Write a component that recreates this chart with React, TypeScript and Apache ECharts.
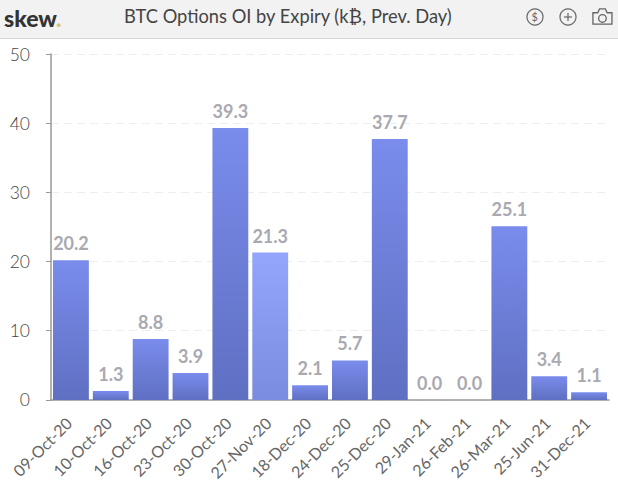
import React, { useEffect, useRef } from "react";
import * as echarts from "echarts";

const categories = ["09-Oct-20","10-Oct-20","16-Oct-20","23-Oct-20","30-Oct-20","27-Nov-20","18-Dec-20","24-Dec-20","25-Dec-20","29-Jan-21","26-Feb-21","26-Mar-21","25-Jun-21","31-Dec-21"];
const values = [20.2,1.3,8.8,3.9,39.3,21.3,2.1,5.7,37.7,0.0,0.0,25.1,3.4,1.1];
const highlighted = "27-Nov-20";
const yTicks = { min: 0, max: 50, interval: 10 };
const titleText = "BTC Options OI by Expiry (k\u20BF, Prev. Day)";

const FONT = "Lato, Carlito, 'Open Sans', sans-serif";
const grad = (a: string, b: string) => new echarts.graphic.LinearGradient(0, 0, 0, 1, [
  { offset: 0, color: a }, { offset: 1, color: b },
]);

echarts.graphic.registerShape("camera", echarts.graphic.extendPath(
  "M1 5 H6 L8 1 H14 L16 5 H21 V17 H1 Z M11 7 A4 4 0 1 0 11 15 A4 4 0 1 0 11 7 Z", {}));

export default function App() {
  const ref = useRef<HTMLDivElement>(null);
  useEffect(() => {
    const chart = echarts.init(ref.current!, undefined, { renderer: "svg" });
    const icon = "#666";
    chart.setOption({
      animation: false,
      backgroundColor: "#fff",
      grid: { left: 51, right: 9, top: 54, bottom: 83, containLabel: false },
      xAxis: {
        type: "category",
        data: categories,
        axisLine: { lineStyle: { color: "#999", width: 1.5 } },
        axisTick: { show: false },
        axisLabel: { rotate: 45, interval: 0, color: "#666", fontFamily: FONT, fontSize: 16, margin: 18, padding: [0, 3, 0, 0] },
      },
      yAxis: {
        type: "value",
        ...yTicks,
        axisLine: { show: true, lineStyle: { color: "#999", width: 1.5 } },
        axisTick: { show: true, length: 5, lineStyle: { color: "#999" } },
        axisLabel: { color: "#444", fontFamily: FONT, fontSize: 17.5, fontWeight: 300, margin: 21, padding: [0, 0, 7, 0] },
        splitLine: { show: true, lineStyle: { color: "#eeeeee", type: [8, 5] } },
      },
      series: [{
        type: "bar",
        barCategoryGap: "10%",
        data: values.map((v, i) => ({
          value: v,
          itemStyle: {
            color: categories[i] === highlighted ? grad("#94a6fc", "#7a8cdf") : grad("#7a8cec", "#5f6fc2"),
          },
        })),
        label: {
          show: true,
          position: "top",
          distance: 8,
          formatter: (p: any) => Number(p.value).toFixed(1),
          color: "#a9a9b1",
          fontFamily: FONT,
          fontWeight: "bold",
          fontSize: 18,
        },
      }],
      graphic: [
        { type: "rect", left: 0, top: 0, shape: { width: 618, height: 38 }, style: { fill: "#f2f2f2" }, z: 10 },
        { type: "rect", left: 0, top: 38, shape: { width: 618, height: 1 }, style: { fill: "#d6d6d6" }, z: 10 },
        { type: "text", x: 4, y: 6, z: 11, style: { text: "skew", fill: "#333", font: `900 23px ${FONT}` } },
        { type: "text", x: 56, y: 6, z: 11, style: { text: ".", fill: "#d9c36a", font: `900 23px ${FONT}` } },
        { type: "text", x: 124, y: 7, z: 11, style: { text: titleText, fill: "#444", font: `18.3px ${FONT}` } },
        { type: "circle", z: 11, shape: { cx: 535, cy: 17, r: 8 }, style: { fill: "none", stroke: icon, lineWidth: 1.2 } },
        { type: "text", x: 531.5, y: 11, z: 11, style: { text: "$", fill: icon, font: `11px ${FONT}` } },
        { type: "circle", z: 11, shape: { cx: 568, cy: 17, r: 8 }, style: { fill: "none", stroke: icon, lineWidth: 1.2 } },
        { type: "line", z: 11, shape: { x1: 564, y1: 17, x2: 572, y2: 17 }, style: { stroke: icon, lineWidth: 1.2 } },
        { type: "line", z: 11, shape: { x1: 568, y1: 13, x2: 568, y2: 21 }, style: { stroke: icon, lineWidth: 1.2 } },
        { type: "camera", z: 11, x: 592, y: 8, scaleX: 0.95, scaleY: 0.95, style: { fill: "none", stroke: icon, lineWidth: 1.4 } },
      ],
    });
    return () => chart.dispose();
  }, []);
  return <div ref={ref} style={{ position: "fixed", left: 0, top: 0, width: 618, height: 483 }} />;
}
